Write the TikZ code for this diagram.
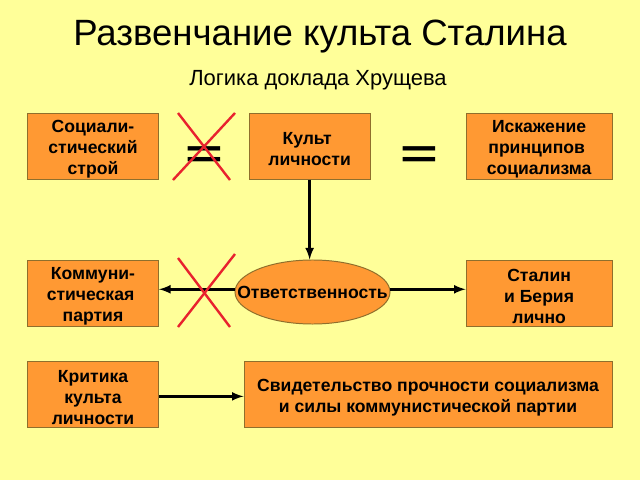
\documentclass[tikz,border=0pt]{standalone}
\usepackage{fontspec}
\usepackage{graphicx}
\usetikzlibrary{shapes.geometric}
\setmainfont{Liberation Sans}
\definecolor{fon}{HTML}{FFFF99}
\definecolor{korobka}{HTML}{FF9933}
\definecolor{kontur}{HTML}{8F6F2C}
\definecolor{krest}{HTML}{E8222E}
\newcommand{\podem}{\rule{0pt}{13.5pt}}
\newcommand{\probel}{\kern3.5pt}
\tikzset{
  korob/.style={rectangle, draw=kontur, fill=korobka, line width=0.7pt, inner sep=0pt, minimum width=3.275cm, minimum height=1.65cm, align=center, font=\fontsize{12.5}{15}\selectfont\bfseries},
  oval/.style={ellipse, draw=kontur, fill=korobka, line width=0.7pt, inner sep=0pt, minimum width=3.875cm, minimum height=1.6cm, font=\fontsize{12.5}{15}\selectfont\bfseries},
  strelka/.style={-latex, line width=1.8pt},
  krestik/.style={draw=krest, line width=1.7pt},
  ravno/.style={inner sep=0pt, font=\fontsize{46}{46}\selectfont\bfseries}
}
\begin{document}
\begin{tikzpicture}[x=0.025cm, y=-0.025cm, node distance=3.675cm]
    \useasboundingbox (0,0) rectangle (640,480);
    \fill[fon] (0,0) rectangle (640,480);

    % Zagolovki
    \node (title) at (320,37) [inner sep=0pt, font=\fontsize{26}{30}\selectfont] {Развенчание культа Сталина};
    \node (subtitle) at (318,80) [inner sep=0pt, font=\fontsize{15.6}{18}\selectfont] {Логика доклада Хрущева};

    % Korobki
    \node (stroy) at (93,146) [korob] {\podem Социали-\\стический\\строй};
    \node (kult) [korob, right of=stroy, xshift=1.74cm, minimum width=3.025cm] {\podem Культ\probel\\личности};
    \node (iskazh) [korob, right of=kult, xshift=2.06cm, minimum width=3.65cm] {\podem Искажение\\принципов\probel\\социализма};

    \node (partiya) [korob, below of=stroy] {\podem Коммуни-\\стическая\probel\\партия};
    \node (otvet) at (312.5,292) [oval] {\makebox[0pt]{Ответственность}};
    \node (beriya) [korob, below of=iskazh, minimum width=3.65cm] {\podem Сталин\\и Берия\\лично};

    \node (kritika) [korob, below of=partiya, yshift=1.15cm] {\podem Критика\\культа\\личности};
    \node (svidet) [korob, right of=kritika, xshift=4.7cm, minimum width=9.2cm] {\podem Свидетельство прочности социализма\\и силы коммунистической партии};

    % Znaki ravenstva
    \node (ravno1) at (204.5,157) [ravno] {\scalebox{1}[0.62]{=}};
    \node (ravno2) at (419,157) [ravno] {\scalebox{1}[0.62]{=}};

    % Strelki
    \draw [strelka] (kult) -- (kult |- otvet.north);
    \draw [strelka] (otvet.178) -- (otvet.178 -| partiya.east);
    \draw [strelka] (otvet.2) -- (otvet.2 -| beriya.west);
    \draw [strelka] (kritika.-2) -- (kritika.-2 -| svidet.west);

    % Kresty
    \coordinate (a1) at (178,113);
    \coordinate (a2) at (230,180);
    \coordinate (a3) at (235,113);
    \coordinate (a4) at (173,180);
    \draw [krestik] (a1) -- (a2);
    \draw [krestik] (a3) -- (a4);
    \coordinate (b1) at (178,258);
    \coordinate (b2) at (230,327);
    \coordinate (b3) at (235,254);
    \coordinate (b4) at (178,327);
    \draw [krestik] (b1) -- (b2);
    \draw [krestik] (b3) -- (b4);
\end{tikzpicture}
\end{document}
